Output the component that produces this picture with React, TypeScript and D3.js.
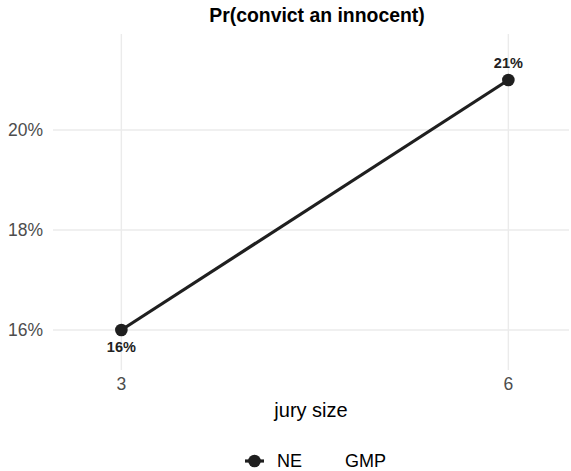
import React, { useRef, useEffect } from "react"
import * as d3 from "d3"

const jurySizes = [3, 6]
const neValues = [0.16, 0.21]
const yTicks = [0.16, 0.18, 0.2]
const xTicks = [3, 6]
const legendKeys = ["NE", "GMP"]

const width = 571
const height = 471

const App: React.FC = () => {
  const svgRef = useRef<SVGSVGElement | null>(null)

  useEffect(() => {
    const svg = d3.select(svgRef.current)
    svg.selectAll("*").remove()

    const font = "'Liberation Sans', Arial, sans-serif"
    const panel = { left: 53, right: 569, top: 34, bottom: 370 }

    const x = d3.scaleLinear().domain([2.47, 6.47]).range([panel.left, panel.right])
    const y = d3.scaleLinear().domain([0.152, 0.2192]).range([panel.bottom, panel.top])
    const pct = d3.format(".0%")

    // GRID
    svg.append("g")
      .selectAll("line")
      .data(yTicks)
      .join("line")
      .attr("x1", panel.left).attr("x2", panel.right)
      .attr("y1", d => y(d)).attr("y2", d => y(d))
      .attr("stroke", "#ebebeb").attr("stroke-width", 1.4)

    svg.append("g")
      .selectAll("line")
      .data(xTicks)
      .join("line")
      .attr("x1", d => x(d)).attr("x2", d => x(d))
      .attr("y1", panel.top).attr("y2", panel.bottom)
      .attr("stroke", "#ebebeb").attr("stroke-width", 1.4)

    // AXIS LABELS
    svg.append("g")
      .selectAll("text")
      .data(yTicks)
      .join("text")
      .attr("x", 43).attr("y", d => y(d))
      .attr("dy", "0.35em")
      .attr("text-anchor", "end")
      .attr("font-family", font).attr("font-size", 17.5)
      .attr("fill", "#4d4d4d")
      .text(d => pct(d))

    svg.append("g")
      .selectAll("text")
      .data(xTicks)
      .join("text")
      .attr("x", d => x(d)).attr("y", 384)
      .attr("dy", "0.35em")
      .attr("text-anchor", "middle")
      .attr("font-family", font).attr("font-size", 17.5)
      .attr("fill", "#4d4d4d")
      .text(d => d)

    svg.append("text")
      .attr("x", (panel.left + panel.right) / 2).attr("y", 410)
      .attr("dy", "0.35em")
      .attr("text-anchor", "middle")
      .attr("font-family", font).attr("font-size", 20)
      .attr("fill", "#000")
      .text("jury size")

    svg.append("text")
      .attr("x", (panel.left + panel.right) / 2 + 6).attr("y", 15)
      .attr("dy", "0.35em")
      .attr("text-anchor", "middle")
      .attr("font-family", font).attr("font-size", 19.4).attr("font-weight", "bold")
      .attr("fill", "#000")
      .text("Pr(convict an innocent)")

    // SERIES
    const pts = jurySizes.map((s, i) => ({ s, v: neValues[i] }))
    const line = d3.line<{ s: number; v: number }>().x(d => x(d.s)).y(d => y(d.v))

    svg.append("path")
      .datum(pts)
      .attr("d", line)
      .attr("fill", "none")
      .attr("stroke", "#1f1f1f").attr("stroke-width", 3.2)

    svg.append("g")
      .selectAll("circle")
      .data(pts)
      .join("circle")
      .attr("cx", d => x(d.s)).attr("cy", d => y(d.v))
      .attr("r", 6.3)
      .attr("fill", "#1f1f1f")

    svg.append("g")
      .selectAll("text")
      .data(pts)
      .join("text")
      .attr("x", d => x(d.s))
      .attr("y", (d, i) => y(d.v) + (i === 0 ? 17 : -17))
      .attr("dy", "0.35em")
      .attr("text-anchor", "middle")
      .attr("font-family", font).attr("font-size", 14.5).attr("font-weight", "bold")
      .attr("fill", "#222")
      .text(d => pct(d.v))

    // LEGEND
    const legend = svg.append("g").attr("transform", "translate(0,461)")
    legend.append("line")
      .attr("x1", 245).attr("x2", 264).attr("y1", 0).attr("y2", 0)
      .attr("stroke", "#1f1f1f").attr("stroke-width", 3.2)
    legend.append("circle")
      .attr("cx", 254.5).attr("cy", 0).attr("r", 6.3)
      .attr("fill", "#1f1f1f")
    legend.selectAll("text")
      .data(legendKeys)
      .join("text")
      .attr("x", (_d, i) => (i === 0 ? 277 : 345))
      .attr("y", 0)
      .attr("dy", "0.35em")
      .attr("font-family", font).attr("font-size", 18)
      .attr("fill", "#000")
      .text(d => d)
  }, [])

  return <svg ref={svgRef} width={width} height={height} style={{ position: "absolute", left: 0, top: 0 }} />
}

export default App
